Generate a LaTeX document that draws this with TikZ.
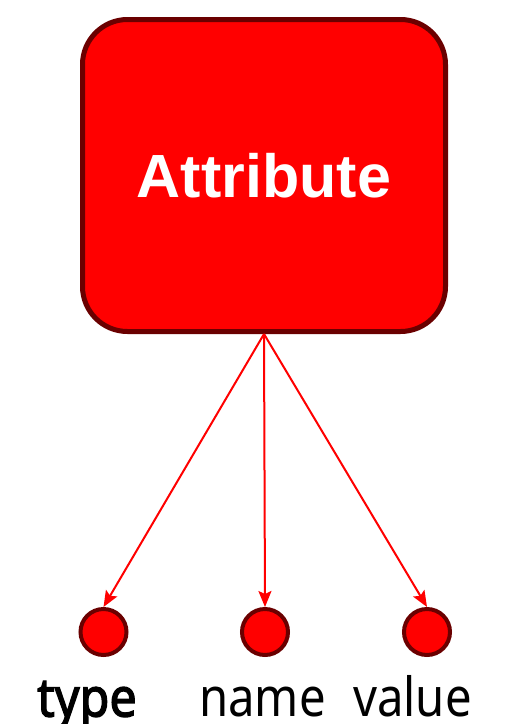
\documentclass[tikz,border=0pt]{standalone}
\usepackage{fontspec}
\setmainfont{Liberation Sans}
\newfontfamily\labelfont{Noto Sans}
\newfontfamily\labelboldfont{Noto Sans}[FakeBold=2.5]
\usetikzlibrary{arrows.meta}
\definecolor{boxred}{HTML}{FF0000}
\definecolor{darkrim}{HTML}{6A0000}
\begin{document}
\begin{tikzpicture}[x=1pt,y=-1pt,
  mainbox/.style={draw=darkrim, fill=boxred, line width=5pt, rounded corners=45pt,
    minimum width=363pt, minimum height=312pt, inner sep=0pt,
    text=white, font=\fontsize{61}{70}\selectfont\bfseries},
  leaf/.style={circle, draw=darkrim, fill=boxred, line width=4pt, minimum size=46pt, inner sep=0pt},
  conn/.style={draw=boxred, line width=2pt, -{Stealth[length=16pt,width=13pt,inset=3pt]}},
  lbl/.style={anchor=base, inner sep=0pt, text=black}
]
\useasboundingbox (0,0) rectangle (512,724);
\node[mainbox] (attr) at (264,175.5) {Attribute};
\node[leaf] (type) at (103.5,632) {};
\node[leaf] (name) at (265,632) {};
\node[leaf] (value) at (427,632) {};
\draw[conn] (attr.south) -- (type.north);
\draw[conn] (attr.south) -- (name.north);
\draw[conn] (attr.south) -- (value.north);
\node[lbl] (typel) at (87,716.5) {\scalebox{0.9}[1]{\labelboldfont\fontsize{54}{60}\selectfont type}};
\node[lbl] (namel) at (262.5,716.5) {\scalebox{0.875}[1]{\labelfont\fontsize{54}{60}\selectfont name}};
\node[lbl] (valuel) at (412.5,716.5) {\scalebox{0.875}[1]{\labelfont\fontsize{54}{60}\selectfont value}};
\end{tikzpicture}
\end{document}
